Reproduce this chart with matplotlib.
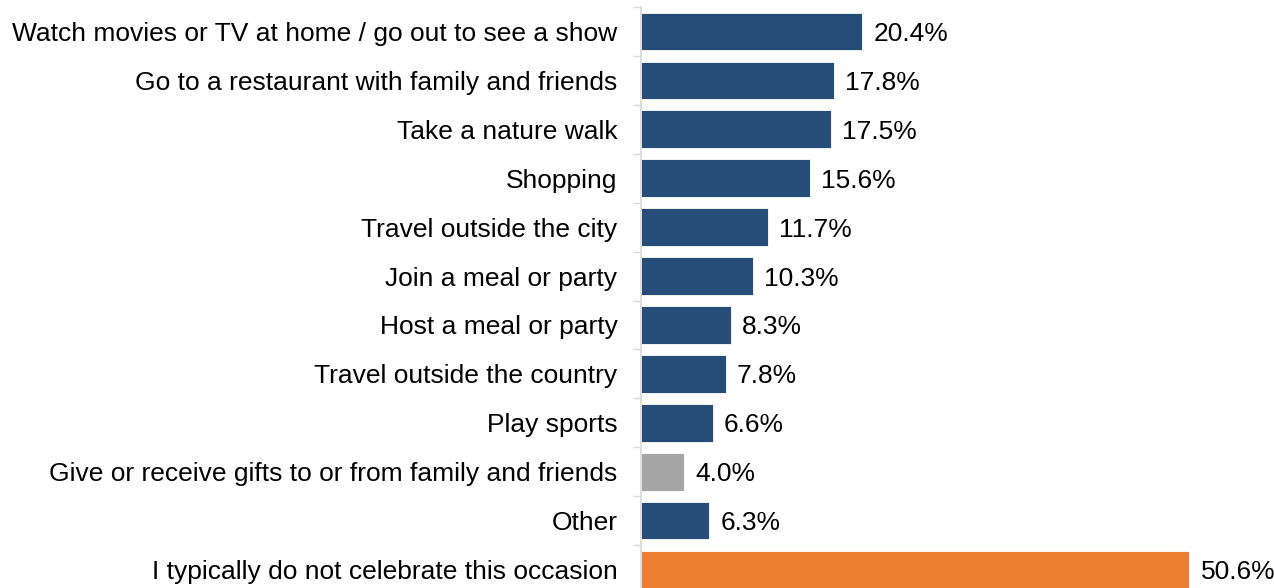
import matplotlib
matplotlib.use("Agg")
import matplotlib.pyplot as plt
import numpy as np

plt.rcParams["font.family"] = ["Liberation Sans", "DejaVu Sans"]

NAVY = "#264d78"
GREY = "#a5a5a5"
ORANGE = "#ed7d31"

categories = [
    "Watch movies or TV at home / go out to see a show",
    "Go to a restaurant with family and friends",
    "Take a nature walk",
    "Shopping",
    "Travel outside the city",
    "Join a meal or party",
    "Host a meal or party",
    "Travel outside the country",
    "Play sports",
    "Give or receive gifts to or from family and friends",
    "Other",
    "I typically do not celebrate this occasion",
]
values = [20.4, 17.8, 17.5, 15.6, 11.7, 10.3, 8.3, 7.8, 6.6, 4.0, 6.3, 50.6]
colors = [NAVY] * 9 + [GREY, NAVY, ORANGE]

W, H = 1274, 588
fig = plt.figure(figsize=(W / 100, H / 100), dpi=100)
# axes runs a little past the bottom edge, like the cropped original
ax = fig.add_axes([641 / W, -6 / H, 633 / W, 587 / H])

y = np.arange(len(categories))
ax.barh(y, values, height=0.77, color=colors, edgecolor="white", linewidth=0.6)
ax.set_ylim(len(categories) - 0.5, -0.5)
ax.set_xlim(0, 58.4)

ax.set_yticks(y)
ax.set_yticklabels(categories, fontsize=19)
ax.tick_params(axis="y", which="major", length=0, pad=17)
ax.set_yticks(np.arange(-0.5, len(categories), 1), minor=True)
ax.tick_params(axis="y", which="minor", length=6, color="#d9d9d9", width=1)
ax.set_xticks([])

for s in ["top", "right", "bottom"]:
    ax.spines[s].set_visible(False)
ax.spines["left"].set_color("#d9d9d9")
ax.spines["left"].set_linewidth(1.2)

for yi, v in zip(y, values):
    ax.annotate(f"{v:.1f}%", (v, yi), xytext=(8, 0), textcoords="offset points",
                va="center_baseline", ha="left", fontsize=19)

fig.savefig("out.png", dpi=100)
